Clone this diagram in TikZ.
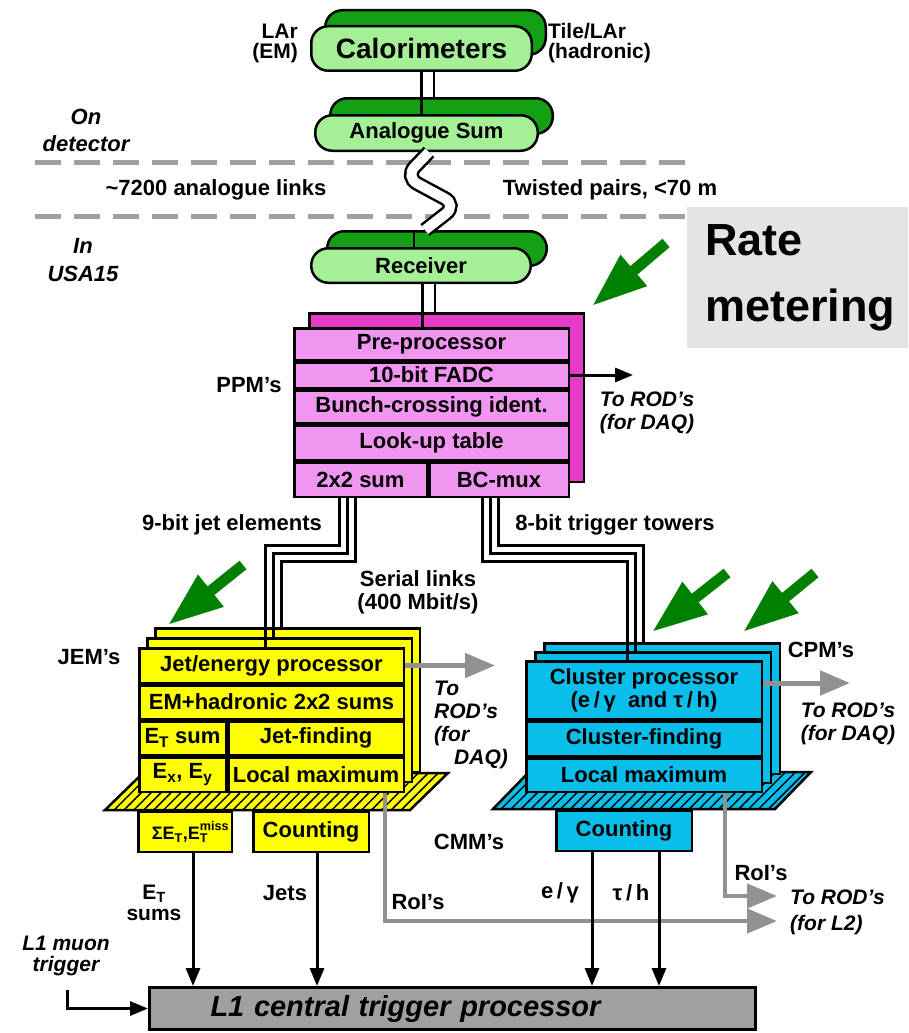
\documentclass[tikz,border=0pt]{standalone}
\usepackage{fontspec}
\setmainfont{Liberation Sans}
\usepackage{xcolor}
\usepackage{tikz}
\usetikzlibrary{arrows.meta, positioning, calc, patterns.meta}

\definecolor{calolight}{RGB}{165,240,150}
\definecolor{calodark}{RGB}{20,160,20}
\definecolor{ppmback}{RGB}{228,60,200}
\definecolor{ppmfront}{RGB}{240,150,240}
\definecolor{jemyellow}{RGB}{255,255,0}
\definecolor{cpmcyan}{RGB}{10,190,235}
\definecolor{ctpgray}{RGB}{160,160,160}
\definecolor{linkgray}{RGB}{145,145,145}
\definecolor{markgreen}{RGB}{0,128,0}
\definecolor{rategray}{RGB}{228,228,228}

\begin{document}
\begin{tikzpicture}[
    x=1pt, y=-1pt,
    font=\bfseries\fontsize{22}{23}\selectfont,
    every node/.style={inner sep=0pt, align=center},
    ovalfront/.style={draw, line width=2.5pt, rounded corners=17pt, fill=calolight},
    ovalback/.style={ovalfront, fill=calodark},
    ppmrow/.style={draw, line width=2.5pt, fill=ppmfront, minimum width=274.5pt},
    jemrow/.style={draw, line width=2.5pt, fill=jemyellow},
    cpmrow/.style={draw, line width=2.5pt, fill=cpmcyan, minimum width=235.5pt},
    stackbox/.style={draw, line width=2.5pt, anchor=north west},
    platform/.style={draw, line width=2.5pt, pattern={Lines[angle=45, distance=7pt, line width=1.5pt]}, pattern color=black},
    ctpbox/.style={draw, line width=3pt, fill=ctpgray, minimum width=606pt, minimum height=42pt, text width=600pt, align=left, font=\bfseries\itshape\fontsize{29}{30}\selectfont},
    ratebox/.style={fill=rategray, minimum width=221pt, minimum height=141pt, text width=185pt, inner xsep=18pt, align=left, font=\bfseries\fontsize{45}{66}\selectfont},
    lbl/.style={font=\bfseries\fontsize{21}{20}\selectfont},
    ilbl/.style={font=\bfseries\itshape\fontsize{21}{23}\selectfont},
    sepline/.style={draw=ctpgray, line width=5pt, dash pattern=on 26pt off 13pt},
    wire/.style={line width=2.5pt},
    dbl/.style={draw=black, line width=2.5pt, double=white, double distance=10pt},
    trunk/.style={draw=black, line width=3pt, preaction={draw=black, line width=19pt}, preaction={draw=white, line width=13pt}},
    blk/.style={line width=3pt, -{Triangle[length=18pt, width=14pt]}},
    daqarrow/.style={draw=linkgray, line width=5pt, -{Triangle[length=30pt, width=24pt]}},
    roiline/.style={draw=linkgray, line width=4.5pt, -{Triangle[length=30pt, width=24pt]}},
    hint/.style={draw=markgreen, line width=11pt, -{Triangle[length=55pt, width=38pt]}}
]
\useasboundingbox (0,0) rectangle (908,1033);

% Detector / cavern separators
\draw[sepline] (35,162) -- (695,162);
\draw[sepline] (35,216) -- (695,216);

% Rate metering note
\node[ratebox, anchor=north west] (rate) at (687,207) {Rate\\metering};

% On detector: calorimeters and analogue sums
\node[ovalback, minimum width=220.5pt, minimum height=44.5pt] (caloback) at (435.5,32.5) {};
\node[ovalfront, minimum width=220.5pt, minimum height=44.5pt, font=\bfseries\fontsize{28}{30}\selectfont] (calo) at (421.5,48.5) {Calorimeters};
\node[ovalback, minimum width=222.5pt, minimum height=35.5pt] (analogback) at (441.5,116) {};
\node[ovalfront, minimum width=222.5pt, minimum height=35.5pt] (analog) at (426.5,133) {Analogue Sum};
\node[ovalback, minimum width=219.5pt, minimum height=34.5pt] (recvback) at (437,248.5) {};
\node[ovalfront, minimum width=219.5pt, minimum height=34.5pt] (recv) at (421,265.5) {Receiver};

\node[lbl, anchor=east, align=right] (lar) at (298,43) {LAr\\(EM)};
\node[lbl, anchor=west, align=left] (tile) at (548,43) {Tile/LAr\\(hadronic)};
\node[ilbl, font=\bfseries\itshape\fontsize{22}{27}\selectfont] (ondet) at (86,130) {On\\detector};
\node[ilbl, font=\bfseries\itshape\fontsize{22}{28}\selectfont] (inusa) at (83,260) {In\\USA15};
\node (links) at (216,190) {\textasciitilde7200 analogue links};
\node (twisted) at (610,190) {Twisted pairs, <70 m};

% Pre-processor modules
\node[stackbox, fill=ppmback, minimum width=274.5pt, minimum height=168.5pt] (ppmback) at (308,312) {};
\node[ppmrow, minimum height=31.5pt, anchor=north] (pre) at (431.5,327) {Pre-processor};
\node[ppmrow, minimum height=25.5pt, below=0pt of pre] (fadc) {10-bit FADC};
\node[ppmrow, minimum height=32.5pt, below=0pt of fadc] (bcid) {Bunch-crossing ident.};
\node[ppmrow, minimum height=34.5pt, below=0pt of bcid] (lut) {Look-up table};
\node[ppmrow, minimum width=132.5pt, minimum height=34.5pt, below=0pt of lut.south west, anchor=north west] (sum2) {2x2 sum};
\node[ppmrow, minimum width=139.5pt, minimum height=34.5pt, right=0pt of sum2] (bcmux) {BC-mux};
\node (ppmlbl) at (249,385) {PPM's};
\node[ilbl] (ppmdaqlbl) at (647,413) {To ROD's\\(for DAQ)};
\coordinate (ppmdaq) at (633,375);

% Links down to the PPM's
\draw[dbl] ($(calo.south)+(6,0)$) -- ($(analogback.north)+(-14,0)$);
\draw[wire] ($(analogback.north)+(-20.25,0)$) -- ($(analog.north)+(-5.25,0)$);
\draw[dbl, rounded corners=14pt] ($(analog.south)+(2.5,0)$) -- ++(-24,25) -- ++(52,28) -- ($(recvback.north)+(-12,0)$);
\draw[wire] ($(recvback.north)+(-23,0)$) -- ($(recv.north)+(-7,0)$);
\draw[dbl] ($(recv.south)+(7.5,0)$) -- ($(ppmback.north)+(-18,0)$);
\draw[wire] ($(ppmback.north)+(-24.25,0)$) -- ($(pre.north)+(-9.25,0)$);
\draw[blk] (fadc.east) -- (ppmdaq);

% Jet/energy processor modules
\draw[platform, preaction={fill=jemyellow}] (105,810) -- (410,810) -- (448,773) -- (143,773) -- cycle;
\node[stackbox, fill=jemyellow, minimum width=264.5pt, minimum height=143.5pt] (jemback) at (154,627) {};
\node[stackbox, fill=jemyellow, minimum width=264.5pt, minimum height=143.5pt] (jemmid) at (146,637) {};
\node[jemrow, minimum width=264.5pt, minimum height=34.5pt, anchor=north west] (jetproc) at (138,647) {Jet/energy processor};
\node[jemrow, minimum width=264.5pt, minimum height=33.5pt, below=0pt of jetproc] (emhad) {EM+hadronic 2x2 sums};
\node[jemrow, minimum width=86.5pt, minimum height=33.5pt, below=0pt of emhad.south west, anchor=north west] (etsum) {E\textsubscript{T} sum};
\node[jemrow, minimum width=175.5pt, minimum height=33.5pt, right=0pt of etsum] (jetfind) {Jet-finding};
\node[jemrow, minimum width=86.5pt, minimum height=34.5pt, below=0pt of etsum] (exey) {E\textsubscript{x}, E\textsubscript{y}};
\node[jemrow, minimum width=175.5pt, minimum height=34.5pt, right=0pt of exey] (locmax) {Local maximum};
\node[jemrow, minimum width=93.5pt, minimum height=40.5pt, anchor=north west, font=\bfseries\fontsize{18}{20}\selectfont] (sumet) at (137,810) {ΣE\textsubscript{T},E\rlap{\raisebox{3pt}{\textsuperscript{miss}}}\textsubscript{T}\hspace*{10pt}};
\node[jemrow, minimum width=115.5pt, minimum height=40.5pt, anchor=north west] (jemcount) at (252,810) {Counting};
\node (jemlbl) at (89,657) {JEM's};
\node[ilbl, anchor=west, align=left] (jemdaqlbl) at (434,725) {To\\ROD's\\(for\\\hspace*{20pt}DAQ)};
\coordinate (jemdaq) at (495,665.5);

% Cluster processor modules
\draw[platform, preaction={fill=cpmcyan}] (493,809) -- (775,809) -- (811,772) -- (529,772) -- cycle;
\node[stackbox, fill=cpmcyan, minimum width=235.5pt, minimum height=130.5pt] (cpmback) at (543,642) {};
\node[stackbox, fill=cpmcyan, minimum width=235.5pt, minimum height=130.5pt] (cpmmid) at (534,651) {};
\node[cpmrow, minimum height=57.5pt, anchor=north west] (clproc) at (525,660) {Cluster processor\\(e\,/\,γ\ \ and τ\,/\,h)};
\node[cpmrow, minimum height=34.5pt, below=0pt of clproc] (clfind) {Cluster-finding};
\node[cpmrow, minimum height=33.5pt, below=0pt of clfind] (cpmlocmax) {Local maximum};
\node[cpmrow, minimum width=135.5pt, minimum height=40.5pt, anchor=north west] (cpmcount) at (555,809) {Counting};
\node (cpmlbl) at (821,650) {CPM's};
\node[ilbl] (cpmdaqlbl) at (848,724) {To ROD's\\(for DAQ)};
\coordinate (cpmdaq) at (850,683);

% Serial links from the PPM's
\draw[trunk] ($(sum2.south)+(-13.5,0)$) -- ++(0,55) -| ($(jemback.north west)+(119,0)$);
\draw[wire, line width=3pt] ($(jemback.north west)+(111,0)$) -- ($(jetproc.north west)+(127,0)$);
\draw[wire, line width=3pt] ($(jemback.north west)+(119,0)$) -- ($(jemmid.north west)+(127,0)$);
\draw[trunk] ($(bcmux.south)+(-9,0)$) -- ++(0,55) -| ($(cpmback.north west)+(92,0)$);
\draw[wire, line width=3pt] ($(cpmback.north west)+(84,0)$) -- ($(clproc.north west)+(102,0)$);
\draw[wire, line width=3pt] ($(cpmback.north west)+(92,0)$) -- ($(cpmmid.north west)+(101,0)$);
\node (jetelem) at (232,525) {9-bit jet elements};
\node (towers) at (615,525) {8-bit trigger towers};
\node (serial) at (418,592) {Serial links\\(400 Mbit/s)};
\node (cmmlbl) at (469,842) {CMM's};

% Central trigger processor
\node[ctpbox] (ctp) at (452.5,1008.5) {\hspace*{58pt}L1 central trigger processor};
\coordinate (muon) at (67,990);
\node[ilbl, font=\bfseries\itshape\fontsize{21}{21}\selectfont] (muonlbl) at (66,956) {L1 muon\\trigger};

% Readout and RoI paths
\coordinate (roijet) at (777,921);
\coordinate (roicl) at (777,896);
\draw[daqarrow] (jetproc.east) -- (jemdaq);
\draw[daqarrow] ($(clproc.east)+(0,-7)$) -- (cpmdaq);
\draw[roiline] ($(locmax.south)+(69,0)$) |- (roijet);
\draw[roiline] ($(cpmlocmax.south)+(81,0)$) |- (roicl);
\node (roijetlbl) at (418,902) {RoI's};
\node (roicllbl) at (761,873) {RoI's};
\node[ilbl, anchor=west, align=left, font=\bfseries\itshape\fontsize{21}{26}\selectfont] (l2lbl) at (790,912) {To ROD's\\(for L2)};

% Trigger inputs to the CTP
\coordinate (etsrc) at ($(sumet.south)+(8,0)$);
\coordinate (jetsrc) at ($(jemcount.south)+(6,0)$);
\coordinate (egsrc) at ($(cpmcount.south)+(-32,0)$);
\coordinate (tausrc) at ($(cpmcount.south)+(35,0)$);
\draw[blk] (etsrc) -- (etsrc |- ctp.north);
\draw[blk] (jetsrc) -- (jetsrc |- ctp.north);
\draw[blk] (egsrc) -- (egsrc |- ctp.north);
\draw[blk] (tausrc) -- (tausrc |- ctp.north);
\draw[blk] (muon) |- (ctp.west);
\node[lbl, font=\bfseries\fontsize{21}{21}\selectfont] (etsums) at (154,903) {E\textsubscript{T}\\sums};
\node (jets) at (285,893) {Jets};
\node (egam) at (560,893) {e\,/\,γ};
\node (tauh) at (631,893) {τ\,/\,h};

% Rate metering pointers
\coordinate (ratetip) at (592,306);
\coordinate (jemtip) at (168,625);
\coordinate (cpmtipa) at (652,632);
\coordinate (cpmtipb) at (743,632);
\draw[hint] (666,243) -- (ratetip);
\draw[hint] (243,565) -- (jemtip);
\draw[hint] (727,573) -- (cpmtipa);
\draw[hint] (815,573) -- (cpmtipb);

\end{tikzpicture}
\end{document}
